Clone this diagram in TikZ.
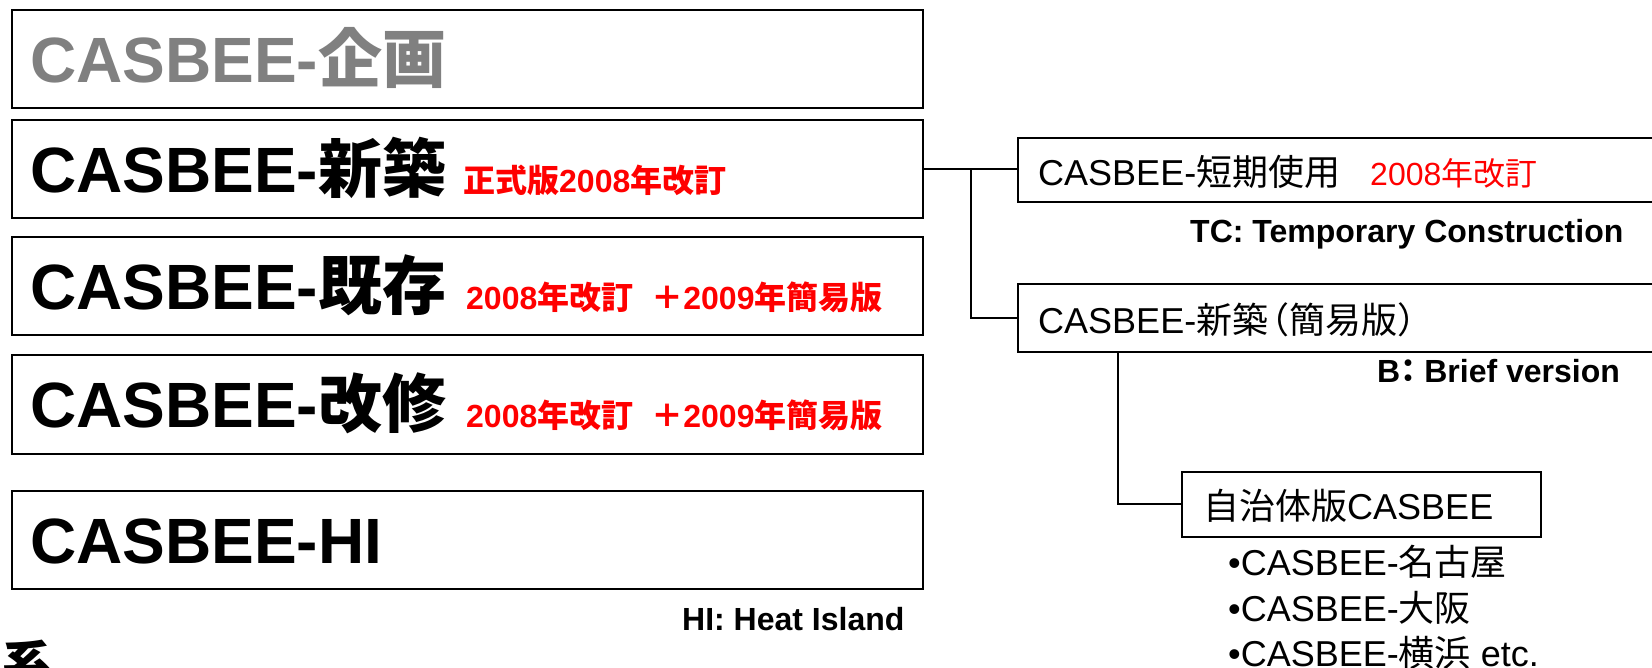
\documentclass[tikz,border=0pt]{standalone}
\usepackage{fontspec}
\setmainfont{Liberation Sans}
\newfontfamily\jp{Noto Sans CJK JP}
\usepackage{xcolor}
\usetikzlibrary{calc, positioning}
\definecolor{plangray}{HTML}{808080}
\definecolor{revred}{HTML}{FF0000}

\begin{document}
\begin{tikzpicture}[x=1pt, y=-1pt,
    bigbox/.style={draw, line width=2pt, minimum width=911pt, minimum height=98pt, anchor=north west, inner sep=0pt},
    subbox/.style={draw, line width=1.6pt, anchor=north west, inner sep=0pt},
    bigtxt/.style={anchor=base west, inner sep=0pt, font=\fontsize{64}{64}\selectfont\bfseries},
    redtxt/.style={anchor=base west, inner sep=0pt, text=revred, font=\fontsize{32}{32}\selectfont\bfseries},
    subtxt/.style={anchor=base west, inner sep=0pt, font=\fontsize{36}{36}\selectfont},
    notetxt/.style={anchor=base west, inner sep=0pt, font=\fontsize{32}{32}\selectfont\bfseries},
    link/.style={line width=2pt}]
    \useasboundingbox (0, 0) rectangle (1652, 667);
    \clip (0, 0) rectangle (1652, 667);

    % left column
    \node[bigbox] (kikaku) at (11, 9) {};
    \node[bigbox] (shinchiku) at (11, 119) {};
    \node[bigbox] (kizon) at (11, 236) {};
    \node[bigbox, minimum height=99pt] (kaishu) at (11, 354) {};
    \node[bigbox] (hi) at (11, 490) {};

    \node[bigtxt, text=plangray] (kikakut) at (30, 82) {CASBEE-{\jp 企画}};
    \node[bigtxt] (shinchikut) at (30, 192) {CASBEE-{\jp 新築}};
    \node[redtxt] (shinchikur) at (463, 192) {{\jp 正式版}2008{\jp 年改訂}};
    \node[bigtxt] (kizont) at (30, 309) {CASBEE-{\jp 既存}};
    \node[redtxt] (kizonr) at (466, 309) {2008{\jp 年改訂}\hspace{18pt}{\jp ＋}2009{\jp 年簡易版}};
    \node[bigtxt] (kaishut) at (30, 427) {CASBEE-{\jp 改修}};
    \node[redtxt] (kaishur) at (466, 427) {2008{\jp 年改訂}\hspace{18pt}{\jp ＋}2009{\jp 年簡易版}};
    \node[bigtxt] (hit) at (30, 563) {CASBEE-HI};
    \node[notetxt] (hinote) at (682, 630) {HI: Heat Island};

    \node[anchor=north west, inner sep=0pt, font=\fontsize{50}{50}\selectfont\bfseries\jp] (keitai) at (2, 640) {系};

    % right column
    \node[subbox, minimum width=660pt, minimum height=64pt] (tanki) at (1017, 137) {};
    \node[subbox, minimum width=660pt, minimum height=68pt] (kani) at (1017, 283) {};
    \node[subbox, minimum width=359pt, minimum height=65pt] (jichitai) at (1181, 471) {};

    \node[subtxt] (tankit) at (1038, 185) {CASBEE-{\jp 短期使用}};
    \node[subtxt, text=revred, font=\fontsize{32}{32}\selectfont] (tankir) at (1370, 185) {2008{\jp 年改訂}};
    \node[notetxt] (tcnote) at (1190, 242) {TC: Temporary Construction};
    \node[subtxt] (kanit) at (1038, 333) {CASBEE-{\jp 新築\kern-.4em（簡易版）}};
    \node[notetxt] (bnote) at (1377, 382) {B{\kern-.25em\jp ：}Brief version};
    \node[subtxt] (jichitait) at (1203, 519) {{\jp 自治体版}CASBEE};
    \node[subtxt] (nagoya) at (1228, 575) {•CASBEE-{\jp 名古屋}};
    \node[subtxt] (osaka) at (1228, 621) {•CASBEE-{\jp 大阪}};
    \node[subtxt] (yokohama) at (1228, 666) {•CASBEE-{\jp 横浜} etc.};

    \coordinate (fork) at (971, 169);
    \coordinate (kanifoot) at ($(kani.south west) + (101, 0)$);

    \draw[link]
    (shinchiku.east) -- (shinchiku.east -| tanki.west)
    (fork) |- (kani.west)
    (kanifoot) |- (jichitai.west);
\end{tikzpicture}
\end{document}
